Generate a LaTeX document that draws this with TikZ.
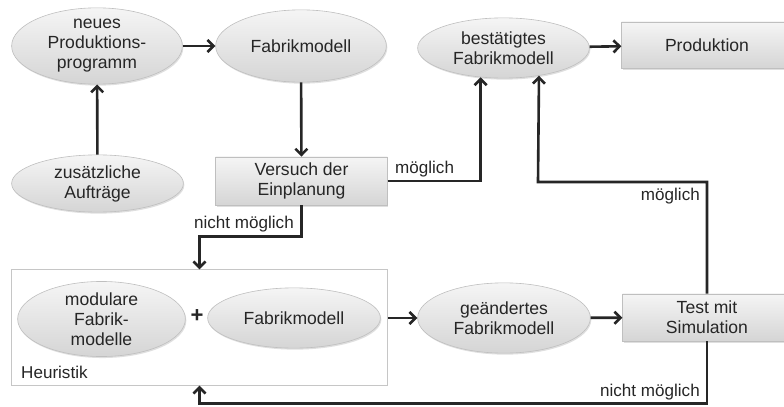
\documentclass[tikz,border=0pt]{standalone}
\usepackage{fontspec}
\setmainfont{Liberation Sans}
\usetikzlibrary{shapes.geometric,arrows.meta,shadows,calc}
\definecolor{ink}{HTML}{262626}
\tikzset{
  base/.style={draw=gray!50, line width=0.6pt, top color=gray!8, bottom color=gray!33,
    text=ink, align=center, font=\fontsize{17.5}{20}\selectfont,
    drop shadow={shadow xshift=1pt, shadow yshift=-1.5pt, opacity=0.25}},
  oval/.style={base, ellipse, inner sep=0pt},
  box/.style={base, rectangle, inner sep=0pt},
  arr/.style={draw=ink, line width=2.6pt, -{Straight Barb[length=6pt,width=12pt]}},
  lbl/.style={text=ink, font=\fontsize{17}{20}\selectfont, inner sep=0pt},
}
\begin{document}
\begin{tikzpicture}[x=0.35cm,y=-0.35cm]
    \clip (0,0) rectangle (78.4,40.6);
    \node[oval, minimum width=170pt, minimum height=76pt] (neu) at (9.7,4.6) {neues\\Produktions-\\programm};
    \node[oval, minimum width=170pt, minimum height=72pt] (fab) at (30.1,4.6) {Fabrikmodell};
    \node[oval, minimum width=171pt, minimum height=60pt] (best) at (50.35,4.8) {bestätigtes\\Fabrikmodell};
    \node[box, minimum width=170pt, minimum height=46pt] (prod) at (70.7,4.5) {Produktion};
    \node[oval, minimum width=171pt, minimum height=57pt] (zus) at (9.75,18.35) {zusätzliche\\Aufträge};
    \node[box, minimum width=171pt, minimum height=48pt] (vers) at (30.15,18.1) {Versuch der\\Einplanung};
    \node[draw=gray!45, line width=0.8pt, fill=white, minimum width=375pt, minimum height=115pt, inner sep=0pt] (heur) at (19.95,32.75) {};
    \node[lbl, anchor=base west] (heurtxt) at (2.1,37.8) {Heuristik};
    \node[oval, minimum width=167pt, minimum height=60pt] (mod) at (10.15,31.9) {modulare\\Fabrik-\\modelle};
    \node[oval, minimum width=172pt, minimum height=60pt] (fabb) at (29.4,31.8) {Fabrikmodell};
    \node[text=ink, font=\fontsize{22}{22}\bfseries, inner sep=0pt] (plus) at (19.7,31.6) {+};
    \node[oval, minimum width=172pt, minimum height=70pt] (gea) at (50.4,31.8) {geändertes\\Fabrikmodell};
    \node[box, minimum width=168pt, minimum height=47pt] (test) at (70.7,31.75) {Test mit\\Simulation};
    \draw[arr] (neu) -- (fab);
    \draw[arr] (best) -- (prod);
    \draw[arr] (zus) -- (neu);
    \draw[arr] (fab) -- (vers);
    \draw[arr] (vers.east) -| (best.232);
    \draw[arr] (test.north) |- (53.8,18.2) -- (best.322);
    \draw[arr] (vers.south) |- ($(heur.north)+(0,-3.3)$) -- (heur.north);
    \draw[arr] (heur.east |- gea.west) -- (gea.west);
    \draw[arr] (gea) -- (test);
    \draw[arr] (test.south) |- ($(heur.south)+(0,1.8)$) -- (heur.south);
    \node[lbl, anchor=base west] (m1) at (39.5,17.3) {möglich};
    \node[lbl, anchor=base east] (m2) at (70.0,20.0) {möglich};
    \node[lbl, anchor=base east] (n1) at (29.4,22.8) {nicht möglich};
    \node[lbl, anchor=base east] (n2) at (70.0,39.6) {nicht möglich};
\end{tikzpicture}
\end{document}
